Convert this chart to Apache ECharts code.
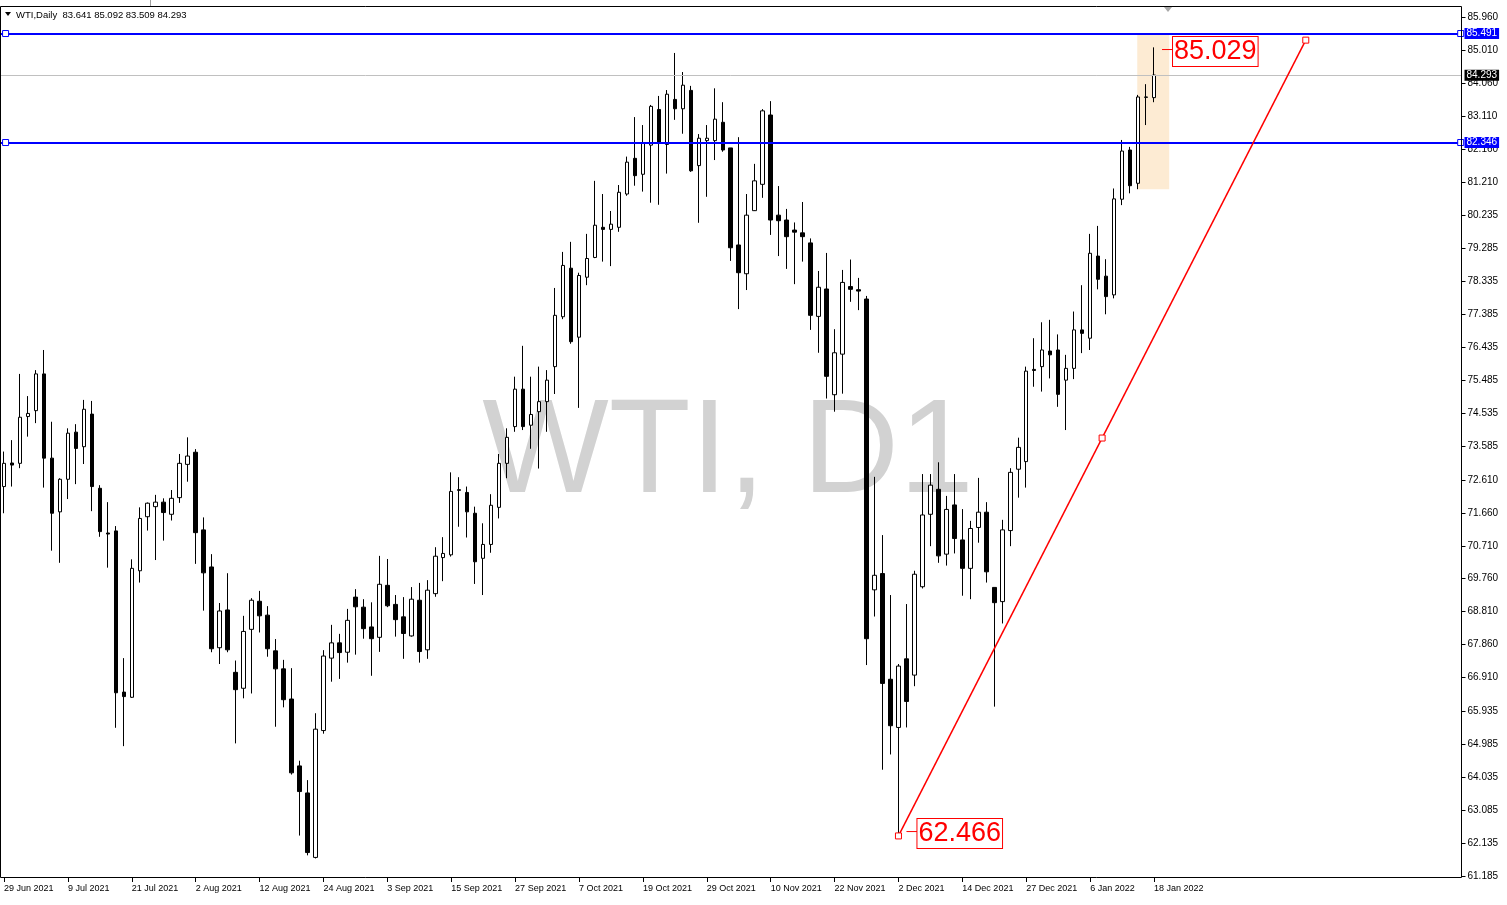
<!DOCTYPE html>
<html><head><meta charset="utf-8">
<script src="https://cdn.jsdelivr.net/npm/echarts@6/dist/echarts.min.js"></script>
<style>html,body{margin:0;padding:0;background:#fff;overflow:hidden}#c{width:1507px;height:905px}</style>
</head><body><div id="c"></div>
<script>
// ---- data ----
const opens = [72.42,73.10,73.09,74.44,74.61,75.67,73.24,71.69,72.63,73.99,73.57,74.51,72.37,71.08,71.14,66.49,66.34,69.99,71.55,71.84,
71.97,71.62,72.10,73.06,73.41,71.17,70.10,67.77,68.86,67.06,66.60,68.30,69.11,68.71,67.68,67.16,66.29,64.36,63.58,61.72,
65.38,67.47,67.91,67.64,69.23,68.94,68.37,68.07,69.57,69.02,68.66,68.11,69.14,67.71,69.33,70.37,70.45,72.33,72.25,71.65,
70.35,70.75,71.82,73.09,74.15,75.23,74.19,74.58,74.87,75.88,77.32,78.72,76.73,78.46,79.03,79.90,79.84,79.90,80.86,81.89,
81.43,82.27,83.30,82.29,83.59,83.32,83.85,81.68,82.40,82.40,82.93,82.19,79.39,78.56,80.38,81.14,83.14,80.25,80.11,79.82,
79.74,79.45,77.33,78.12,75.07,76.24,78.19,78.10,77.83,69.44,69.91,66.86,65.47,67.45,66.98,69.53,71.62,72.34,70.47,71.89,
70.88,70.06,71.24,71.68,69.51,69.10,71.15,72.92,73.14,75.80,75.88,76.33,76.36,75.49,75.83,76.94,76.70,79.07,78.49,77.95,
80.71,82.13,81.17,83.66,83.641];
const highs = [73.43,73.76,75.67,75.03,75.78,76.36,74.29,72.66,74.10,74.22,74.92,74.89,72.46,71.97,71.28,67.47,70.32,71.82,71.96,72.18,
72.08,72.32,73.36,73.84,73.50,71.53,70.47,69.06,69.92,67.40,68.69,69.20,69.41,68.97,68.02,67.42,67.18,64.51,63.95,65.88,
67.70,68.43,68.17,68.89,69.46,69.17,69.08,70.42,70.33,69.29,69.23,69.52,69.64,69.72,70.67,70.96,72.83,72.69,72.42,71.84,
71.36,72.20,73.36,74.10,75.59,76.48,75.59,75.88,75.78,78.15,79.19,79.48,78.59,79.71,81.24,80.86,80.37,81.12,81.94,83.08,
82.85,83.43,83.69,83.86,84.93,84.38,83.98,82.59,82.85,83.91,83.51,82.19,82.50,80.86,81.73,83.31,83.54,81.09,80.43,80.04,
80.63,79.58,78.64,79.16,76.96,78.67,78.97,78.44,77.92,72.70,71.02,69.29,67.30,69.03,69.99,72.78,72.78,73.12,72.15,72.78,
71.77,71.43,72.67,71.97,69.51,71.46,72.95,73.83,75.88,76.70,77.16,77.23,76.81,76.22,77.47,78.23,79.71,79.94,78.98,81.02,
82.42,82.22,83.72,84.03,85.092];
const lows = [71.65,72.42,72.95,73.86,74.25,72.39,70.57,70.22,72.06,72.49,73.07,71.71,70.97,70.08,65.46,64.93,66.32,69.65,71.15,70.30,
70.86,71.44,71.95,72.56,70.19,68.84,67.64,67.30,67.64,65.01,66.31,66.45,68.21,67.51,65.49,66.05,64.11,62.35,61.78,61.69,
65.29,66.79,66.87,67.34,67.57,68.03,66.96,67.65,68.94,68.09,67.45,68.09,67.34,67.45,69.24,69.69,70.40,71.26,70.95,69.61,
69.29,70.51,71.50,72.66,74.00,74.05,73.51,72.94,74.00,75.09,77.25,76.54,74.69,78.23,79.01,78.91,78.78,79.77,80.81,81.10,
80.93,80.61,80.55,81.45,83.00,82.60,81.50,80.03,80.78,81.84,82.08,78.93,77.54,78.09,80.37,80.75,79.68,79.07,78.70,78.26,
78.91,76.94,76.28,74.96,74.58,75.10,77.75,77.51,67.27,68.67,64.25,64.69,62.36,65.47,66.66,69.48,70.70,70.22,70.14,70.49,
69.27,69.17,70.80,69.65,66.07,68.47,70.70,72.10,72.39,75.30,75.16,75.54,74.72,74.05,75.52,76.27,76.36,78.11,77.39,77.85,
80.54,80.88,81.00,82.85,83.509];
const closes = [73.09,73.04,74.42,74.53,75.67,73.24,71.65,72.63,73.96,73.52,74.65,72.42,71.12,71.05,66.47,66.36,70.06,71.50,71.94,71.97,
71.67,72.08,73.09,73.30,71.09,69.93,67.74,68.83,67.71,66.56,68.24,69.14,68.69,67.74,67.16,66.27,64.16,63.62,61.86,65.42,
67.53,67.91,67.63,68.56,68.95,68.32,68.03,69.60,68.98,68.58,68.18,69.17,67.66,69.43,70.41,70.49,72.28,72.31,71.69,70.25,
70.75,71.88,73.09,73.84,75.23,74.15,74.50,74.87,75.49,77.36,78.80,76.60,78.51,79.00,79.96,79.84,79.99,80.91,81.78,81.39,
82.34,83.39,82.35,83.74,83.32,84.00,81.53,82.47,82.47,83.02,82.13,79.31,78.59,80.25,81.24,83.26,80.11,80.09,79.63,79.76,
79.63,77.36,78.17,75.60,76.28,78.31,78.11,78.06,68.03,69.86,66.74,65.52,67.24,66.22,69.89,71.60,72.46,70.42,71.76,70.92,
70.06,71.21,71.68,69.96,69.07,71.17,72.83,73.55,75.75,75.77,76.36,76.22,75.08,75.83,76.94,76.84,79.15,78.40,77.90,80.72,
82.10,81.10,83.66,83.65,84.293];
const yTickValues = [85.960,85.010,84.060,83.110,82.160,81.210,80.235,79.285,78.335,77.385,76.435,75.485,74.535,73.585,
72.610,71.660,70.710,69.760,68.810,67.860,66.910,65.935,64.985,64.035,63.085,62.135,61.185];
const firstDay = [2021, 5, 29];          // 29 Jun 2021
const holidays = ['2021-12-24'];
const emptySlots = 38;                   // chart shift area on the right
const yRange = [61.126, 86.285];
const levelLines = [85.491, 82.346];
const levelAnchors = [0.2, 182.4];       // bar positions of the level-line handles
const lastPrice = 84.293;
const trendFrom = [112, 62.34];
const trendTo = [163, 85.30];
const highNote = {index: 145, value: 85.029};
const lowNote = {index: 113, value: 62.466};
const zoneBox = [[142, 85.45], [146, 81.00]];
const headerText = 'WTI,Daily  83.641 85.092 83.509 84.293';
const watermark = 'WTI, D1';

// ---- build ----
const MONTHS = ['Jan','Feb','Mar','Apr','May','Jun','Jul','Aug','Sep','Oct','Nov','Dec'];
const dates = [];
let t = Date.UTC(firstDay[0], firstDay[1], firstDay[2]);
while (dates.length < opens.length) {
  const d = new Date(t);
  const wd = d.getUTCDay();
  const iso = d.toISOString().slice(0, 10);
  if (wd !== 0 && wd !== 6 && holidays.indexOf(iso) < 0) {
    dates.push(d.getUTCDate() + ' ' + MONTHS[d.getUTCMonth()] + ' ' + d.getUTCFullYear());
  }
  t += 86400000;
}
const categories = dates.slice();
for (let i = 0; i < emptySlots; i++) categories.push('pad' + i);
const candles = dates.map((_, i) => [opens[i], closes[i], lows[i], highs[i]]);
const nBands = categories.length;

const FONT = 'Liberation Sans, Arial, sans-serif';
const chart = echarts.init(document.getElementById('c'), null, {renderer: 'canvas'});

function sq(coord, col) {
  return {coord: coord, symbol: 'rect', symbolSize: 6,
    itemStyle: {color: '#ffffff', borderColor: col, borderWidth: 1}, label: {show: false}};
}
function note(n) {
  return {coord: [n.index, n.value], symbol: 'rect', symbolSize: [11, 1], symbolOffset: [5.5, 0],
    itemStyle: {color: '#ff0000'},
    label: {show: true, position: 'right', distance: 0, formatter: n.value.toFixed(3),
      color: '#ff0000', fontSize: 27, fontFamily: FONT, lineHeight: 27, offset: [0, 2],
      borderColor: '#ff0000', borderWidth: 1, padding: [2, 1, 0, 1], backgroundColor: '#ffffff'}};
}
function axisBox(v, bg) {
  return {yAxis: v, lineStyle: {color: bg === '#000000' ? '#c0c0c0' : bg, width: bg === '#000000' ? 1 : 2, type: 'solid'},
    label: {show: true, position: 'end', distance: 3, formatter: v.toFixed(3), color: '#ffffff',
      backgroundColor: bg, padding: [1, 2, 0, 2], fontSize: 10, fontFamily: FONT}};
}

chart.setOption({
  animation: false,
  backgroundColor: '#ffffff',
  grid: {left: -2.5, right: 45.5, top: 6, bottom: 27, containLabel: false},
  xAxis: [{
    type: 'category', data: categories, boundaryGap: true,
    axisLine: {show: false, onZero: false},
    axisTick: {show: true, alignWithLabel: true, length: 4, lineStyle: {color: '#000'},
      interval: (i, v) => i % 8 === 0 && v.indexOf('pad') !== 0},
    axisLabel: {interval: (i, v) => i % 8 === 0 && v.indexOf('pad') !== 0,
      align: 'left', margin: 6, fontSize: 9, fontFamily: FONT, color: '#000',
      formatter: v => (v.indexOf('pad') === 0 ? '' : v)},
    splitLine: {show: false}
  }, {
    // same bar scale as the category axis, as continuous bar numbers, for drawn objects
    type: 'value', show: false, min: -0.5, max: nBands - 0.5, position: 'bottom',
    axisLine: {onZero: false}
  }],
  yAxis: {
    type: 'value', position: 'right', min: yRange[0], max: yRange[1], scale: true,
    axisLine: {show: false, onZero: false},
    axisTick: {show: true, length: 4, inside: false, customValues: yTickValues, lineStyle: {color: '#000'}},
    axisLabel: {customValues: yTickValues, formatter: v => v.toFixed(3), margin: 6,
      fontSize: 10, fontFamily: FONT, color: '#000'},
    splitLine: {show: false}
  },
  graphic: {elements: [
    {type: 'text', z: 0, x: 728, y: 455,
      style: {text: watermark, fill: '#d2d2d2', font: '134px ' + FONT, textAlign: 'center', textVerticalAlign: 'middle'}},
    {type: 'rect', z: 50, shape: {x: 0.5, y: 6.5, width: 1461, height: 871},
      style: {fill: 'none', stroke: '#000', lineWidth: 1}},
    {type: 'line', z: 50, shape: {x1: 150.5, y1: 0, x2: 150.5, y2: 6}, style: {stroke: '#a0a0a0', lineWidth: 1}},
    {type: 'polygon', z: 50, shape: {points: [[5, 12], [11, 12], [8, 16]]}, style: {fill: '#000'}},
    {type: 'polygon', z: 50, shape: {points: [[1164, 7], [1172, 7], [1168, 12]]}, style: {fill: '#a8a8a8'}},
    {type: 'text', z: 50, x: 16, y: 15,
      style: {text: headerText, fill: '#000', font: '9.5px ' + FONT, textVerticalAlign: 'middle'}}
  ]},
  series: [
    {type: 'line', name: 'zone', data: [], z: 1, silent: true, xAxisIndex: 1,
      markArea: {silent: true, itemStyle: {color: '#fdebd3'},
        data: [[{coord: [zoneBox[0][0] - 0.1, zoneBox[0][1]]}, {coord: [zoneBox[1][0] - 0.1, zoneBox[1][1]]}]]}},
    {type: 'candlestick', name: 'WTI', data: candles, z: 2, barWidth: 4, xAxisIndex: 0,
      itemStyle: {color: '#ffffff', color0: '#000000', borderColor: '#000000', borderColor0: '#000000',
        borderColorDoji: '#000000', borderWidth: 1}},
    {type: 'line', name: 'objects', data: [], z: 3, silent: true, xAxisIndex: 1,
      markLine: {silent: true, symbol: ['none', 'none'], animation: false,
        data: [
          axisBox(levelLines[0], '#0000ff'),
          axisBox(levelLines[1], '#0000ff'),
          axisBox(lastPrice, '#000000'),
          [{coord: trendFrom, lineStyle: {color: '#ff0000', width: 1.5, type: 'solid'}, label: {show: false}},
           {coord: trendTo, lineStyle: {color: '#ff0000', width: 1.5, type: 'solid'}, label: {show: false}}]
        ]},
      markPoint: {silent: true, animation: false,
        data: [
          sq([levelAnchors[0], levelLines[0]], '#0000ff'), sq([levelAnchors[1], levelLines[0]], '#0000ff'),
          sq([levelAnchors[0], levelLines[1]], '#0000ff'), sq([levelAnchors[1], levelLines[1]], '#0000ff'),
          sq(trendFrom, '#ff0000'), sq(trendTo, '#ff0000'),
          sq([(trendFrom[0] + trendTo[0]) / 2, (trendFrom[1] + trendTo[1]) / 2], '#ff0000'),
          note(highNote), note(lowNote)
        ]}}
  ]
});
</script></body></html>
